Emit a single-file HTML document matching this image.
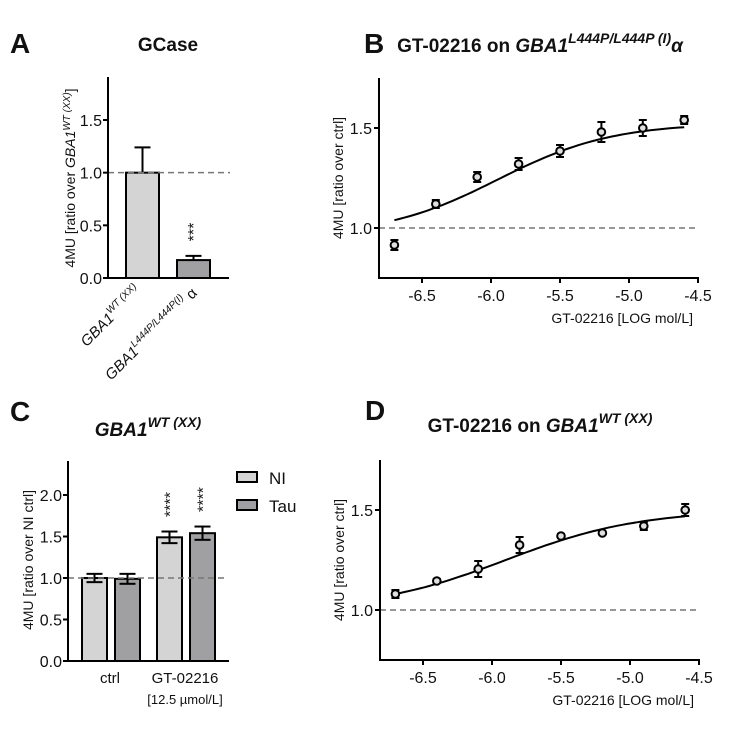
<!DOCTYPE html>
<html><head><meta charset="utf-8"><style>
body{margin:0;background:#fff}
svg{display:block;font-family:"Liberation Sans",Arial,sans-serif}
</style></head><body>
<svg id="fig" width="739" height="731" viewBox="0 0 739 731" xmlns="http://www.w3.org/2000/svg">
<g id="gA"></g>
<g id="gB"></g>
<g id="gC"></g>
<g id="gD"></g>
</svg>
<script>
// Panel A data
const aCats = ["GBA1 WT (XX)", "GBA1 L444P/L444P (I) α"];
const aVals = [1.0, 0.17];
const aErrs = [0.24, 0.04];
const aTicks = [0.0, 0.5, 1.0, 1.5];
const aTickLabels = ["0.0", "0.5", "1.0", "1.5"];
// Panel B data
const bX = [-6.7, -6.4, -6.1, -5.8, -5.5, -5.2, -4.9, -4.6];
const bY = [0.915, 1.12, 1.255, 1.32, 1.385, 1.48, 1.50, 1.54];
const bErr = [0.025, 0.02, 0.025, 0.03, 0.03, 0.05, 0.04, 0.02];
const bFit = [0.96, 1.525, -5.95, 1.05]; // bottom, top, logEC50, hill
// Panel C data
const cGroups = ["ctrl", "GT-02216"];
const cSeries = ["NI", "Tau"];
const cNI = [1.0, 1.49];
const cNIErr = [0.05, 0.07];
const cTau = [0.99, 1.54];
const cTauErr = [0.06, 0.08];
const cTicks = [0.0, 0.5, 1.0, 1.5, 2.0];
const cTickLabels = ["0.0", "0.5", "1.0", "1.5", "2.0"];
// Panel D data
const dX = [-6.7, -6.4, -6.1, -5.8, -5.5, -5.2, -4.9, -4.6];
const dY = [1.08, 1.145, 1.205, 1.325, 1.37, 1.385, 1.42, 1.50];
const dErr = [0.02, 0.01, 0.04, 0.04, 0.01, 0.005, 0.02, 0.03];
const dFit = [1.0, 1.5, -5.9, 0.9];
const xTicks = [-6.5, -6.0, -5.5, -5.0, -4.5];
const xTickLabels = ["-6.5", "-6.0", "-5.5", "-5.0", "-4.5"];
const yTicksBD = [1.0, 1.5];
const yTickLabelsBD = ["1.0", "1.5"];

const NS = "http://www.w3.org/2000/svg";
function mk(parent, tag, attrs, text) {
  const e = document.createElementNS(NS, tag);
  for (const k in attrs) e.setAttribute(k, attrs[k]);
  if (text !== undefined) e.textContent = text;
  parent.appendChild(e);
  return e;
}
function line(p, x1, y1, x2, y2, w, col, dash) {
  const a = {x1, y1, x2, y2, stroke: col || "#000", "stroke-width": w || 2};
  if (dash) a["stroke-dasharray"] = dash;
  return mk(p, "line", a);
}
function label(p, txt, x, y, size, opts) {
  const t = mk(p, "text", Object.assign({x, y, "font-size": size, fill: "#111"}, opts || {}));
  t.innerHTML = txt;
  return t;
}
function lin(d0, d1, r0, r1) { return v => r0 + (v - d0) / (d1 - d0) * (r1 - r0); }
function fourPL(p, x) { return p[0] + (p[1] - p[0]) / (1 + Math.pow(10, (p[2] - x) * p[3])); }

// ---------- Panel A ----------
(function () {
  const g = document.getElementById("gA");
  const y = lin(0, 1.5, 278, 120);
  let t = label(g, "A", 10, 53, 28, {"font-weight": "bold"});
   
  t = label(g, "GCase", 168, 51, 19, {"font-weight": "bold", "text-anchor": "middle"});
   
  const bx = [126, 177], bw = 33, fills = ["#d4d4d4", "#a0a0a3"];
  aVals.forEach((v, i) => {
    const ex = bx[i] + bw / 2;
    line(g, ex, y(v), ex, y(v + aErrs[i]), 2);
    line(g, ex - 8, y(v + aErrs[i]), ex + 8, y(v + aErrs[i]), 2);
    const r = mk(g, "rect", {x: bx[i], y: y(v), width: bw, height: 278 - y(v), fill: fills[i], stroke: "#000", "stroke-width": 2});
    
    
  });
  const dl = line(g, 108, y(1), 230, y(1), 1.5, "#777", "6,4");
   
  t = label(g, "***", 0, 0, 16, {"text-anchor": "middle", transform: "translate(199 232) rotate(-90)"});
   
  line(g, 108, 77, 108, 279, 2);
  line(g, 107, 278, 229, 278, 2);
  aTicks.forEach((v, i) => {
    line(g, 103, y(v), 108, y(v), 2);
    const tl = label(g, aTickLabels[i], 102, y(v) + 6, 16, {"text-anchor": "end"});
     
  });
  t = label(g, '4MU [ratio over <tspan font-style="italic">GBA1</tspan><tspan dy="-5" font-size="10" font-style="italic">WT (XX)</tspan><tspan dy="5">]</tspan>', 0, 0, 14, {"text-anchor": "middle", transform: "translate(75 178) rotate(-90)"});
   
  t = label(g, 'GBA1<tspan dy="-7" font-size="10">WT (XX)</tspan>', 0, 0, 15, {"font-style": "italic", "text-anchor": "end", transform: "translate(142 292) rotate(-45)"});
   
  t = label(g, 'GBA1<tspan dy="-7" font-size="10">L444P/L444P(I)</tspan><tspan dy="7" font-style="normal"> α</tspan>', 0, 0, 15, {"font-style": "italic", "text-anchor": "end", transform: "translate(198 294) rotate(-45)"});
   
})();

// ---------- dose-response panels ----------
function doseResponse(gid, letter, letterY, titleHTML, titleX, titleY, ax, xs, ys, es, fit) {
  const g = document.getElementById(gid);
  const x = lin(-6.5, -4.5, ax.x0 + 43, ax.x0 + 319);
  const y = lin(1.0, 1.5, ax.y1, ax.y15);
  const yTop = y(1.75), yBot = y(0.75);
  let t = label(g, letter, ax.x0 - 15, letterY, 28, {"font-weight": "bold"});
   
  t = label(g, titleHTML, titleX, titleY, 19, {"font-weight": "bold", "text-anchor": "middle"});
   
  const dl = line(g, ax.x0, y(1), x(-4.5), y(1), 1.5, "#777", "6,4");
   
  line(g, ax.x0, yTop, ax.x0, yBot + 1, 2);
  line(g, ax.x0 - 1, yBot, x(-4.5) + 1, yBot, 2);
  xTicks.forEach((v, i) => {
    line(g, x(v), yBot, x(v), yBot + 5, 2);
    const tl = label(g, xTickLabels[i], x(v), yBot + 23, 16, {"text-anchor": "middle"});
     
  });
  yTicksBD.forEach((v, i) => {
    line(g, ax.x0 - 5, y(v), ax.x0, y(v), 2);
    const tl = label(g, yTickLabelsBD[i], ax.x0 - 7, y(v) + 6, 16, {"text-anchor": "end"});
     
  });
  t = label(g, "4MU [ratio over ctrl]", 0, 0, 14, {"text-anchor": "middle", transform: `translate(${ax.x0 - 36} ${(yTop + yBot) / 2}) rotate(-90)`});
   
  t = label(g, "GT-02216 [LOG mol/L]", x(-4.5) - 5, yBot + 45, 14, {"text-anchor": "end"});
   
  let d = "";
  for (let i = 0; i <= 60; i++) {
    const xv = xs[0] + (xs[xs.length - 1] - xs[0]) * i / 60;
    d += (i ? "L" : "M") + x(xv).toFixed(1) + "," + y(fourPL(fit, xv)).toFixed(1);
  }
  const p = mk(g, "path", {d, fill: "none", stroke: "#000", "stroke-width": 2});
   
  xs.forEach((xv, i) => {
    const px = x(xv), py = y(ys[i]), e1 = y(ys[i] + es[i]), e0 = y(ys[i] - es[i]);
    line(g, px, e0, px, e1, 2);
    line(g, px - 4, e0, px + 4, e0, 2);
    line(g, px - 4, e1, px + 4, e1, 2);
    const c = mk(g, "circle", {cx: px, cy: py, r: 3.8, fill: "#e0e0e0", stroke: "#000", "stroke-width": 2});
     
  });
}
doseResponse("gB", "B", 53, 'GT-02216 on <tspan font-style="italic">GBA1</tspan><tspan dy="-9" font-size="14" font-style="italic">L444P/L444P (I)</tspan><tspan dy="9" font-style="italic">α</tspan>',
  540, 52, {x0: 379, y1: 228, y15: 128}, bX, bY, bErr, bFit);
doseResponse("gD", "D", 420, 'GT-02216 on <tspan font-style="italic">GBA1</tspan><tspan dy="-9" font-size="14" font-style="italic">WT (XX)</tspan>',
  540, 432, {x0: 380, y1: 610, y15: 510}, dX, dY, dErr, dFit);

// ---------- Panel C ----------
(function () {
  const g = document.getElementById("gC");
  const y = lin(0, 1.0, 661, 578);
  let t = label(g, "C", 10, 421, 28, {"font-weight": "bold"});
   
  t = label(g, 'GBA1<tspan dy="-9" font-size="14">WT (XX)</tspan>', 148, 436, 19, {"font-weight": "bold", "font-style": "italic", "text-anchor": "middle"});
   
  const groupX = [82, 157], bw = 25, gap = 33;
  const series = [[cNI, cNIErr, "#d4d4d4"], [cTau, cTauErr, "#a0a0a3"]];
  cGroups.forEach((gname, gi) => {
    series.forEach((s, si) => {
      const bx = groupX[gi] + si * gap, v = s[0][gi], e = s[1][gi], cx = bx + bw / 2;
      const r = mk(g, "rect", {x: bx, y: y(v), width: bw, height: 661 - y(v), fill: s[2], stroke: "#000", "stroke-width": 2});
      
      
      line(g, cx, y(v - e), cx, y(v + e), 2);
      line(g, cx - 8, y(v - e), cx + 8, y(v - e), 2);
      line(g, cx - 8, y(v + e), cx + 8, y(v + e), 2);
      if (gi === 1) {
        const st = label(g, "****", 0, 0, 16, {"text-anchor": "middle", transform: `translate(${cx + 6} ${y(v + e) - 27}) rotate(-90)`});
         
      }
    });
  });
  const dl = line(g, 68, y(1), 228, y(1), 1.5, "#777", "6,4");
   
  line(g, 68, 461, 68, 662, 2);
  line(g, 67, 661, 229, 661, 2);
  cTicks.forEach((v, i) => {
    line(g, 63, y(v), 68, y(v), 2);
    const tl = label(g, cTickLabels[i], 62, y(v) + 6, 16, {"text-anchor": "end"});
     
  });
  t = label(g, "4MU [ratio over NI ctrl]", 0, 0, 14, {"text-anchor": "middle", transform: "translate(33 560) rotate(-90)"});
   
  t = label(g, "ctrl", 110, 683, 15, {"text-anchor": "middle"});
   
  t = label(g, "GT-02216", 185, 683, 15, {"text-anchor": "middle"});
   
  t = label(g, "[12.5 µmol/L]", 185, 704, 13, {"text-anchor": "middle"});
   
  cSeries.forEach((s, i) => {
    const ly = 472 + i * 28;
    const r = mk(g, "rect", {x: 237, y: ly, width: 20, height: 10, fill: series[i][2], stroke: "#000", "stroke-width": 2});
    
    
    const lt = label(g, s, 269, ly + 12, 17);
    
    
  });
})();
</script>
</body></html>
